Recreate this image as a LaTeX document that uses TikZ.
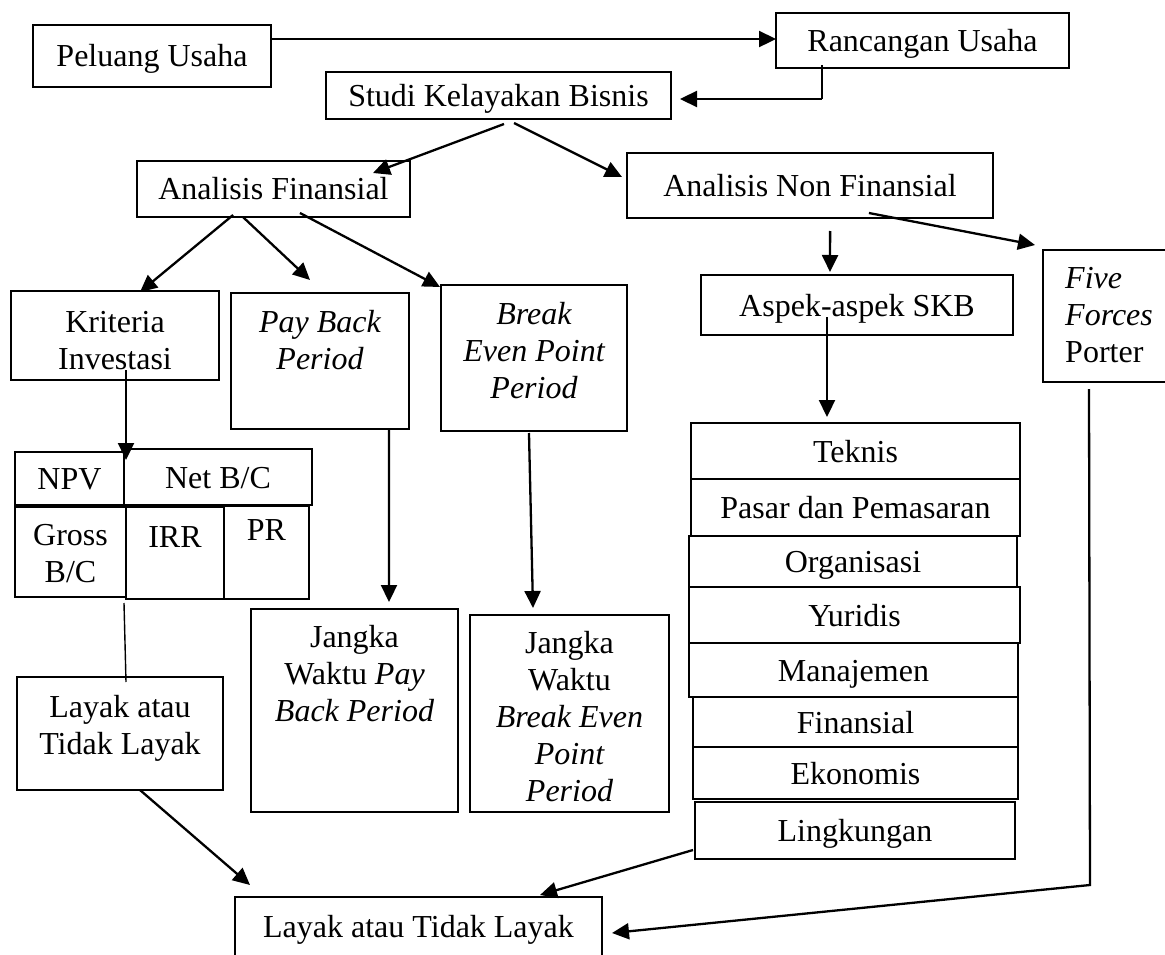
\documentclass[tikz,border=0pt]{standalone}
\usepackage{fontspec}
\setmainfont{Liberation Serif}
\usetikzlibrary{arrows.meta,calc}
\begin{document}
\begin{tikzpicture}[x=1pt,y=-1pt,
  box/.style={draw,line width=1.6pt,rectangle,inner sep=0pt,outer sep=0pt,font=\fontsize{32}{37}\selectfont,align=center},
  one/.style={box,text height=22pt,text depth=0pt},
  txt/.style={inner sep=0pt,font=\fontsize{32}{37}\selectfont,align=center},
  conn/.style={line width=2.3pt},
  arr/.style={line width=2.3pt,-{Triangle[length=17pt,width=16pt]}}]
\useasboundingbox (0,0) rectangle (1165,955);
\clip (0,0) rectangle (1165,955);
% top
\node[one,minimum width=238pt,minimum height=62pt] (pel) at (152,56) {Peluang Usaha};
\node[one,minimum width=293pt,minimum height=55pt] (ran) at (922.5,40.5) {Rancangan Usaha};
\node[one,minimum width=345pt,minimum height=47pt] (stu) at (498.5,95.5) {Studi Kelayakan Bisnis};
\node[one,minimum width=273pt,minimum height=56pt] (af) at (273.5,189) {Analisis Finansial};
\node[one,minimum width=366pt,minimum height=65pt] (anf) at (810,185.5) {Analisis Non Finansial};
% level 3
\node[box,minimum width=208pt,minimum height=89pt] (kri) at (115,335.5) {};
\node[txt,anchor=north] (krit) at ($(kri.north)+(0,20)$) {Kriteria\\Investasi};
\node[box,minimum width=178pt,minimum height=136pt] (pbp) at (320,361) {};
\node[txt,anchor=north] (pbpt) at ($(pbp.north)+(0,17)$) {\itshape Pay Back\\\itshape Period};
\node[box,minimum width=186pt,minimum height=146pt] (bep) at (534,358) {};
\node[txt,anchor=north] (bept) at ($(bep.north)+(0,17)$) {\itshape Break\\\itshape Even Point\\\itshape Period};
\node[one,minimum width=312pt,minimum height=60pt] (asp) at (857,305) {Aspek-aspek SKB};
\node[box,minimum width=137pt,minimum height=132pt] (ff) at (1111.5,316) {};
\node[txt,anchor=north west,align=left] (fft) at ($(ff.north west)+(22,17)$) {\itshape Five\\\itshape Forces\\Porter};
% stack of aspects
\node[one,minimum width=329pt,minimum height=56pt] (tek) at (855.5,451) {Teknis};
\node[one,minimum width=329pt,minimum height=57pt] (pas) at (855.5,507.5) {Pasar dan Pemasaran};
\node[one,minimum width=328pt,minimum height=51pt] (org) at (853,561.5) {Organisasi};
\node[one,minimum width=331pt,minimum height=56pt] (yur) at (854.5,615) {Yuridis};
\node[one,minimum width=329pt,minimum height=54pt] (man) at (853.5,670) {Manajemen};
\node[one,minimum width=325pt,minimum height=50pt] (fin) at (855.5,722) {Finansial};
\node[one,minimum width=325pt,minimum height=52pt] (eko) at (855.5,773) {Ekonomis};
\node[one,minimum width=320pt,minimum height=57pt] (lin) at (855,830.5) {Lingkungan};
% criteria table
\node[one,minimum width=109pt,minimum height=53pt] (npv) at (69.5,478.5) {NPV};
\node[one,minimum width=188pt,minimum height=56pt] (nbc) at (218,477) {Net B/C};
\node[box,minimum width=111pt,minimum height=90pt] (gbc) at (70.5,552) {};
\node[txt,anchor=north] (gbct) at ($(gbc.north)+(0,17)$) {Gross\\B/C};
\node[box,minimum width=98pt,minimum height=92pt] (irr) at (175,553) {};
\node[txt,anchor=base] (irrt) at ($(irr.north)+(0,40)$) {IRR};
\node[box,minimum width=85pt,minimum height=93pt] (pr) at (266.5,552.5) {};
\node[txt,anchor=base] (prt) at ($(pr.north)+(0,34)$) {PR};
% lower
\node[box,minimum width=206pt,minimum height=113pt] (lay) at (120,733.5) {};
\node[txt,anchor=north] (layt) at ($(lay.north)+(0,18)$) {Layak atau\\Tidak Layak};
\node[box,minimum width=207pt,minimum height=203pt] (jpb) at (354.5,710.5) {};
\node[txt,anchor=north] (jpbt) at ($(jpb.north)+(0,16)$) {Jangka\\Waktu \itshape Pay\\\itshape Back Period};
\node[box,minimum width=199pt,minimum height=197pt] (jbe) at (569.5,713.5) {};
\node[txt,anchor=north] (jbet) at ($(jbe.north)+(0,16)$) {Jangka\\Waktu\\\itshape Break Even\\\itshape Point\\\itshape Period};
\node[box,minimum width=367pt,minimum height=93pt] (fin2) at (418.5,943.5) {};
\node[txt,anchor=base] (fin2t) at ($(fin2.north)+(0,40)$) {Layak atau Tidak Layak};
% connectors
\coordinate (p1) at ($(pel.north east)!0.226!(pel.south east)$);
\draw[arr] (p1) -- (p1 -| ran.west);
\coordinate (r1) at ($(ran.south west)!0.157!(ran.south east)+(0,-3)$);
\coordinate (r2) at ($(stu.east)+(9,3.5)$);
\draw[conn] (r1) |- (r2 -| r1);
\draw[arr] (r2 -| r1) -- (r2);
\draw[arr] ($(stu.south west)!0.516!(stu.south east)+(0,5)$) -- ($(af.north west)+(236,12)$);
\draw[arr] ($(stu.south west)!0.545!(stu.south east)+(0,4)$) -- ($(anf.north west)+(-5,24)$);
\draw[arr] ($(af.south west)!0.352!(af.south east)+(0,-2)$) -- ($(kri.north west)+(129,1)$);
\draw[arr] ($(af.south west)!0.388!(af.south east)$) -- ($(pbp.north west)+(79,-13)$);
\draw[arr] ($(af.south west)!0.597!(af.south east)+(0,-4)$) -- ($(bep.north west)+(-1,2)$);
\draw[arr] ($(anf.south west)!0.555!(anf.south east)+(0,13)$) -- ($(asp.north west)+(129,-3)$);
\draw[arr] ($(anf.south west)!0.661!(anf.south east)+(0,-5)$) -- ($(ff.north west)+(-8,-5)$);
\draw[arr] ($(asp.north west)+(126,42)$) -- ($(tek.north west)+(136,-6)$);
\draw[arr] ($(kri.south west)+(115,-10)$) -- ($(npv.north east)+(2,8)$);
\draw[line width=1.4pt] ($(gbc.south east)+(-2,6)$) -- ($(lay.north west)+(109,5)$);
\draw[arr] ($(pbp.south west)!0.888!(pbp.south east)$) -- ($(jpb.north west)+(138,-7)$);
\draw[arr] ($(bep.south west)!0.473!(bep.south east)+(0,2)$) -- ($(jbe.north west)+(63,-7)$);
\draw[arr] ($(lay.south west)!0.597!(lay.south east)$) -- ($(fin2.north west)+(15,-12)$);
\draw[arr] ($(lin.south west)+(-2,-9)$) -- ($(fin2.north west)+(305,-2)$);
\coordinate (f1) at ($(ff.south west)+(46,7)$);
\coordinate (f2) at ($(ff.south west)+(47,503)$);
\draw[arr] (f1) -- (f2) -- ($(fin2.north east)+(10,36)$);
\end{tikzpicture}
\end{document}
